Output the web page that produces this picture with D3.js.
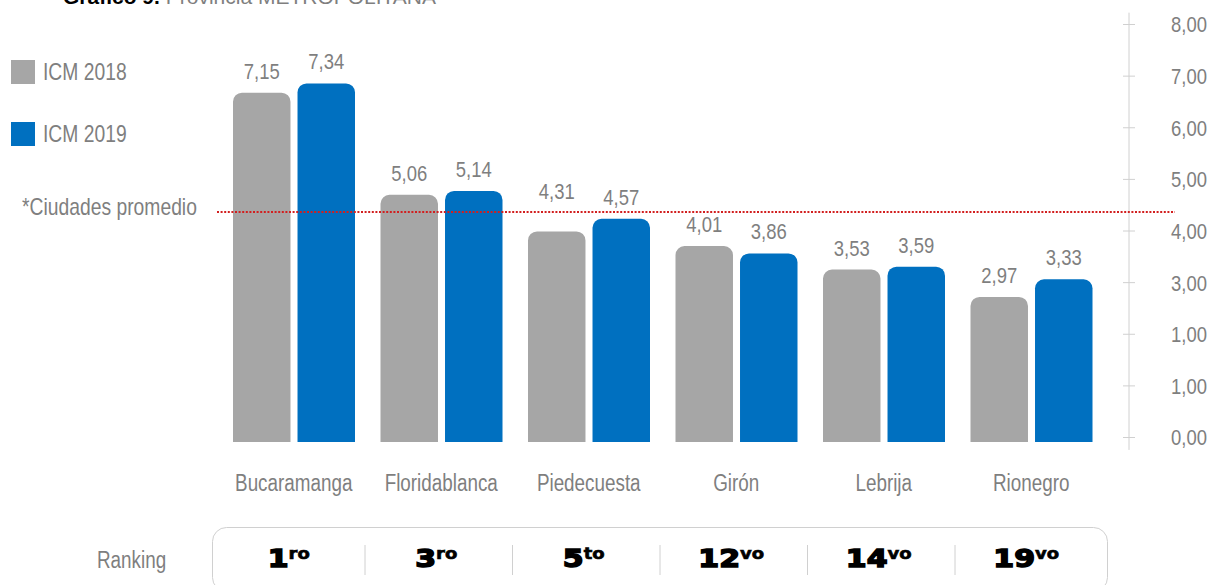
<!DOCTYPE html>
<html>
<head>
<meta charset="utf-8">
<script src="https://cdn.jsdelivr.net/npm/d3@7"></script>
<style>
  html, body { margin: 0; padding: 0; background: #fff; }
  svg { display: block; }
  text { font-family: "Liberation Sans", Arial, sans-serif; }
</style>
</head>
<body>
<svg id="chart" width="1213" height="585"></svg>
<script>
const cities = ["Bucaramanga", "Floridablanca", "Piedecuesta", "Girón", "Lebrija", "Rionegro"];
const series = ["ICM 2018", "ICM 2019"];
const icm2018 = [7.15, 5.06, 4.31, 4.01, 3.53, 2.97];
const icm2019 = [7.34, 5.14, 4.57, 3.86, 3.59, 3.33];
const rankNum = ["1", "3", "5", "12", "14", "19"];
const rankSuffix = ["ro", "ro", "to", "vo", "vo", "vo"];
const axisTicks = [0, 1, 2, 3, 4, 5, 6, 7, 8];
const axisLabels = ["0,00", "1,00", "1,00", "3,00", "4,00", "5,00", "6,00", "7,00", "8,00"];
const promedio = 4.36;

const colors = ["#a6a6a6", "#0070c0"];
const textGrey = "#7f7f7f";
const lineGrey = "#d0d0d0";

const svg = d3.select("#chart");
const locale = d3.formatLocale({ decimal: ",", thousands: ".", grouping: [3], currency: ["$", ""] });
const fmt = locale.format(".2f");

// no narrow font installed: squeeze text horizontally around its anchor
function narrow(sel, k = 0.82) {
    sel.each(function () {
        const t = d3.select(this);
        const tx = +t.attr("x") || 0, ty = +t.attr("y") || 0;
        t.attr("transform", `translate(${tx},${ty}) scale(${k},1) translate(${-tx},${-ty})`);
    });
}

const x = d3.scaleBand().domain(cities).range([220, 1105]);
const xs = d3.scaleBand().domain(series).range([13, 135]).paddingInner(0.109);
const yBar = d3.scaleLinear().domain([0, 8]).range([442, 51.2]);
const yAxis = d3.scaleLinear().domain([0, 8]).range([437, 24]);
const lineY = yAxis(promedio);

// title, cut off at the top
svg.append("text")
    .attr("x", 63).attr("y", 4)
    .style("font-size", "21px")
    .call((t) => {
        t.append("tspan").attr("font-weight", "bold").attr("fill", "#000").text("Gráfico 9. ");
        t.append("tspan").attr("fill", textGrey).text("Provincia METROPOLITANA");
    });

// right axis
const axis = svg.append("g")
    .attr("transform", "translate(1129,0)")
    .call(d3.axisRight(yAxis).tickValues(axisTicks).tickFormat((d, i) => axisLabels[i]).tickSize(6).tickPadding(0));
axis.select(".domain").remove();
axis.selectAll(".tick line").attr("x1", -6).attr("x2", 6).attr("stroke", lineGrey);
axis.selectAll(".tick text")
    .attr("x", 78).attr("text-anchor", "end").attr("dy", "0.36em")
    .attr("fill", textGrey).style("font-size", "22px")
    .call(narrow, 0.84);
axis.append("line")
    .attr("y1", yAxis(8.22)).attr("y2", yAxis(-0.25))
    .attr("stroke", lineGrey);

// bars
function topRounded(x0, y0, w, h, r) {
    r = Math.min(r, h);
    return `M${x0},${y0 + h}V${y0 + r}A${r},${r} 0 0 1 ${x0 + r},${y0}H${x0 + w - r}A${r},${r} 0 0 1 ${x0 + w},${y0 + r}V${y0 + h}Z`;
}

const rows = cities.map((c, i) => ({ city: c, values: [icm2018[i], icm2019[i]] }));

const groups = svg.append("g").selectAll("g")
    .data(rows)
    .join("g")
    .attr("transform", (d) => `translate(${x(d.city)},0)`);

groups.selectAll("path")
    .data((d) => d.values.map((v, j) => ({ v, s: series[j], j })))
    .join("path")
    .attr("fill", (d) => colors[d.j])
    .attr("d", (d) => topRounded(xs(d.s), yBar(d.v), xs.bandwidth(), yBar(0) - yBar(d.v), 9));

// value labels, lifted above the average line where they would cross it
function labelY(v) {
    const b = yBar(v) - 14;
    return (b > lineY - 2 && b - 17 < lineY + 2) ? lineY - 13 : b;
}

groups.selectAll("text.val")
    .data((d) => d.values.map((v, j) => ({ v, s: series[j], j })))
    .join("text")
    .attr("class", "val")
    .attr("x", (d) => xs(d.s) + xs.bandwidth() / 2)
    .attr("y", (d) => labelY(d.v))
    .attr("text-anchor", "middle")
    .attr("fill", textGrey)
    .style("font-size", "22px")
    .text((d) => fmt(d.v))
    .call(narrow, 0.84);

groups.append("text")
    .attr("x", x.bandwidth() / 2)
    .attr("y", 491)
    .attr("text-anchor", "middle")
    .attr("fill", textGrey)
    .style("font-size", "23px")
    .text((d) => d.city)
    .call(narrow);

// average line
svg.append("line")
    .attr("x1", 217).attr("x2", 1175)
    .attr("y1", lineY).attr("y2", lineY)
    .attr("stroke", "#d21f1f")
    .attr("stroke-width", 2)
    .attr("stroke-dasharray", "2 1.6");

svg.append("text")
    .attr("x", 22).attr("y", lineY + 3)
    .attr("fill", textGrey)
    .style("font-size", "23px")
    .text("*Ciudades promedio")
    .call(narrow, 0.84);

// legend
const legend = svg.append("g").selectAll("g")
    .data(series)
    .join("g")
    .attr("transform", (d, i) => `translate(11,${60 + i * 62})`);
legend.append("rect")
    .attr("width", 24).attr("height", 24)
    .attr("fill", (d, i) => colors[i]);
legend.append("text")
    .attr("x", 32).attr("y", 20)
    .attr("fill", textGrey)
    .style("font-size", "23px")
    .text((d) => d)
    .call(narrow, 0.84);

// ranking box
svg.append("text")
    .attr("x", 97).attr("y", 568)
    .attr("fill", textGrey)
    .style("font-size", "23px")
    .text("Ranking")
    .call(narrow);

svg.append("rect")
    .attr("x", 212.5).attr("y", 527.5)
    .attr("width", 895).attr("height", 64)
    .attr("rx", 14)
    .attr("fill", "none")
    .attr("stroke", lineGrey);

svg.append("g").selectAll("line")
    .data(cities.slice(1))
    .join("line")
    .attr("x1", (d) => x(d) - 2.5).attr("x2", (d) => x(d) - 2.5)
    .attr("y1", 545).attr("y2", 575)
    .attr("stroke", lineGrey);

svg.append("g").selectAll("text")
    .data(rows)
    .join("text")
    .attr("x", (d) => x(d.city) + x.bandwidth() / 2 - 5)
    .attr("y", 567)
    .attr("text-anchor", "middle")
    .attr("fill", "#000")
    .style("font-family", "DejaVu Sans, sans-serif")
    .style("font-weight", "bold")
    .each(function (d, i) {
        const t = d3.select(this);
        t.append("tspan")
            .style("font-size", "25px")
            .attr("stroke", "#000").attr("stroke-width", 1.5)
            .text(rankNum[i]);
        t.append("tspan")
            .style("font-size", "15px")
            .attr("dy", -8)
            .attr("stroke", "#000").attr("stroke-width", 0.6)
            .text(rankSuffix[i]);
    })
    .call(narrow, 1.2);
</script>
</body>
</html>
